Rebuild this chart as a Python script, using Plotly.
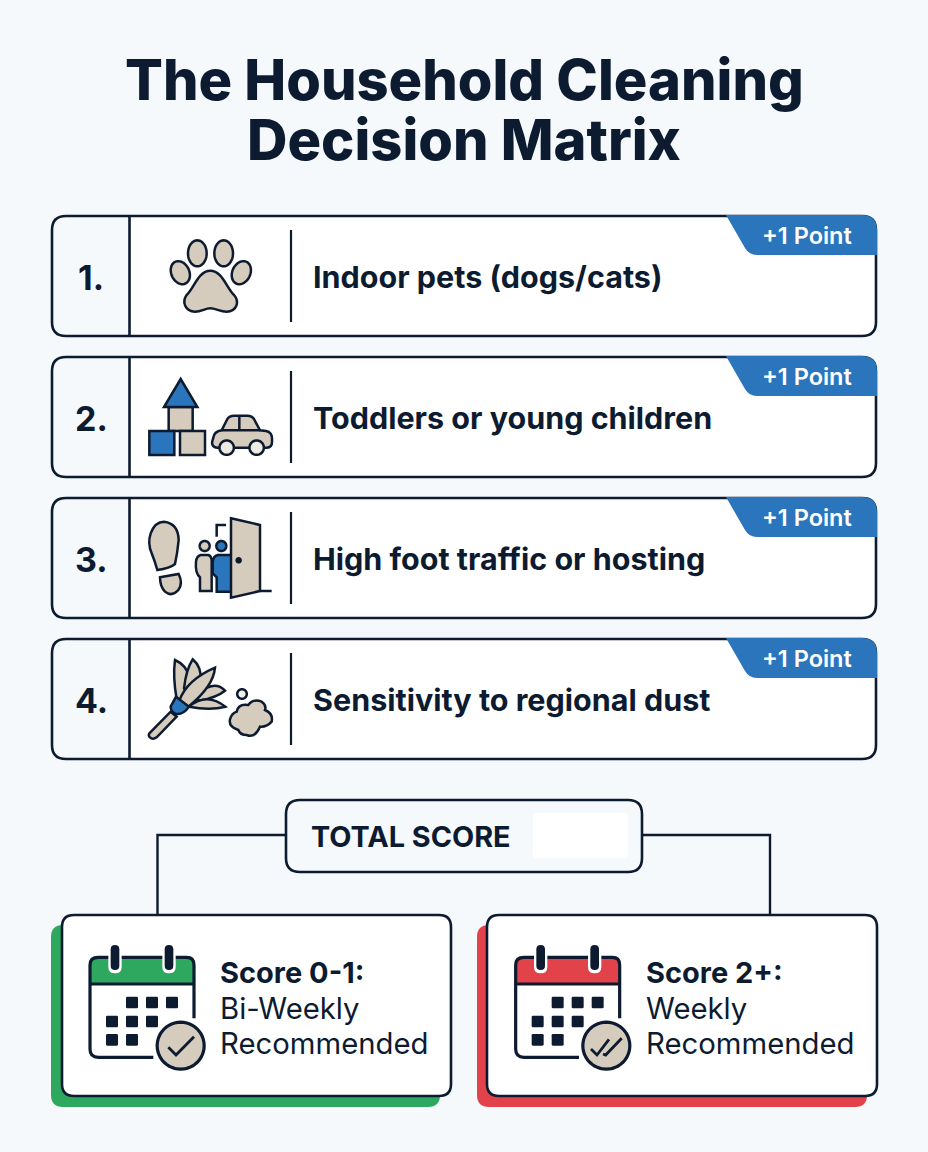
"""
Household cleaning decision matrix, drawn with plotly shapes and annotations.
"""
import math
import re

import plotly.graph_objects as go

TITLE_LINES = ["The Household Cleaning", "Decision Matrix"]
ROW_NUMBERS = ["1.", "2.", "3.", "4."]
ROW_LABELS = [
    "Indoor pets (dogs/cats)",
    "Toddlers or young children",
    "High foot traffic or hosting",
    "Sensitivity to regional dust",
]
BADGE_LABEL = "+1 Point"
TOTAL_LABEL = "TOTAL SCORE"
OUTCOME_HEADS = ["Score 0-1:", "Score 2+:"]
OUTCOME_LINES = [["Bi-Weekly", "Recommended"], ["Weekly", "Recommended"]]

W, H = 928, 1152
BG = "#f5f9fc"
INK = "#0d1b30"
TAN = "#d6ccbd"
BLUE = "#2a75bb"
GREEN = "#2fa85f"
RED = "#e2434a"
FONT = "Inter"

ROW_TOPS = [216, 357, 498, 639]

shapes = []
notes = []


def add(path, fill=None, line=INK, width=2.5):
    shapes.append(
        dict(
            type="path",
            path=path,
            xref="x",
            yref="y",
            fillcolor=fill if fill else "rgba(0,0,0,0)",
            line=dict(color=line if line else "rgba(0,0,0,0)", width=width if line else 0),
            layer="above",
        )
    )


def rrect(x0, y0, x1, y1, r):
    return (
        f"M {x0 + r} {y0} L {x1 - r} {y0} Q {x1} {y0} {x1} {y0 + r} L {x1} {y1 - r} Q {x1} {y1} {x1 - r} {y1} "
        f"L {x0 + r} {y1} Q {x0} {y1} {x0} {y1 - r} L {x0} {y0 + r} Q {x0} {y0} {x0 + r} {y0} Z"
    )


def zoomed(path, ox, oy):
    """Turns a path traced on a 3x crop into page coordinates."""
    tokens = re.findall(r"[A-Za-z]|-?[\d.]+", path)
    out, is_x = [], True
    for tok in tokens:
        if tok.isalpha():
            out.append(tok)
            is_x = True
        else:
            val = float(tok) / 3 + (ox if is_x else oy)
            out.append(f"{val:.2f}")
            is_x = not is_x
    return " ".join(out)


def ellipse(cx, cy, rx, ry, angle=0):
    a = math.radians(angle)
    pts = []
    for i in range(48):
        t = 2 * math.pi * i / 48
        x, y = rx * math.cos(t), ry * math.sin(t)
        pts.append((cx + x * math.cos(a) - y * math.sin(a), cy + x * math.sin(a) + y * math.cos(a)))
    return "M " + " L ".join(f"{x:.2f} {y:.2f}" for x, y in pts) + " Z"


def text(x, y, label, size, weight=700, color=INK, anchor="left"):
    notes.append(
        dict(
            x=x,
            y=y,
            xref="x",
            yref="y",
            text=label,
            showarrow=False,
            xanchor=anchor,
            yanchor="middle",
            font=dict(family=FONT, size=size, color=color, weight=weight),
        )
    )


def paw_icon(oy):
    ox = 40
    for cx, cy, rx, ry, ang in [
        (472, 145, 28, 39, 0),
        (551, 145, 28, 39, 0),
        (421, 203, 27, 36, -25),
        (604, 203, 27, 36, 25),
    ]:
        add(ellipse(cx / 3 + ox, cy / 3 + oy, rx / 3, ry / 3, ang), TAN)
    add(
        zoomed(
            "M 511 197 C 475 197 462 250 440 270 C 425 290 435 320 465 320 C 485 320 495 310 511 310 "
            "C 527 310 540 320 560 320 C 590 320 600 290 582 270 C 560 250 547 197 511 197 Z",
            ox,
            oy,
        ),
        TAN,
    )


def toy_icon(oy):
    ox = 40
    add(zoomed("M 386 606 L 458 606 L 458 678 L 386 678 Z", ox, oy), TAN)
    add(zoomed("M 422 522 L 472 606 L 372 606 Z", ox, oy), BLUE)
    add(zoomed("M 328 678 L 403 678 L 403 750 L 328 750 Z", ox, oy), BLUE)
    add(zoomed("M 420 678 L 495 678 L 495 750 L 420 750 Z", ox, oy), TAN)
    add(
        zoomed(
            "M 520 698 Q 522 680 545 676 L 562 642 Q 568 632 582 632 L 622 632 Q 636 632 642 642 L 660 676 "
            "L 678 678 Q 696 682 696 700 L 696 712 Q 696 728 680 728 L 532 728 Q 516 728 516 712 Z",
            ox,
            oy,
        ),
        TAN,
    )
    add(zoomed("M 545 676 L 660 676 M 598 632 L 598 676", ox, oy))
    add(ellipse(560 / 3 + ox, 728 / 3 + oy, 7.2, 7.2), "#efeae2")
    add(ellipse(650 / 3 + ox, 728 / 3 + oy, 7.2, 7.2), "#efeae2")


def traffic_icon(oy):
    ox = 40
    add(
        zoomed(
            "M 372 95 Q 415 100 416 150 Q 412 190 405 222 Q 390 235 352 240 Q 345 215 335 190 "
            "Q 322 160 332 130 Q 345 95 372 95 Z",
            ox,
            oy,
        ),
        TAN,
    )
    add(zoomed("M 360 262 L 416 252 Q 430 280 415 300 Q 395 322 375 305 Q 360 290 360 262 Z", ox, oy), TAN)
    add(ellipse(494 / 3 + ox, 168 / 3 + oy, 5, 5), TAN)
    add(
        zoomed(
            "M 482 195 L 505 195 Q 514 198 515 210 L 515 303 L 480 303 L 480 262 Q 465 250 468 215 Q 470 198 482 195 Z",
            ox,
            oy,
        ),
        TAN,
    )
    add(ellipse(544 / 3 + ox, 168 / 3 + oy, 5, 5), BLUE)
    add(zoomed("M 533 195 L 585 195 L 585 305 L 530 305 L 530 262 L 518 250 L 518 215 Q 520 198 533 195 Z", ox, oy), BLUE)
    add(zoomed("M 530 140 L 530 105 L 558 105", ox, oy))
    add(zoomed("M 573 85 L 660 105 L 660 303 L 573 323 Z", ox, oy), TAN)
    add(ellipse(596 / 3 + ox, 211 / 3 + oy, 2, 2), INK)
    add(zoomed("M 660 303 L 695 303", ox, oy))


def duster_icon(oy):
    ox = 40
    add(zoomed("M 328 730 L 392 665 L 410 680 L 350 742 Q 338 750 330 742 Q 324 736 328 730 Z", ox, oy), TAN)
    add(zoomed("M 410 628 Q 398 560 405 510 Q 440 525 450 565 Q 448 600 428 630 Z", ox, oy), TAN)
    add(zoomed("M 432 595 Q 438 540 458 508 Q 485 530 482 572 L 445 612 Z", ox, oy), TAN)
    add(zoomed("M 460 622 Q 520 565 555 602 Q 530 622 480 632 Z", ox, oy), TAN)
    add(zoomed("M 447 650 Q 500 605 556 650 Q 510 662 447 650 Z", ox, oy), TAN)
    add(zoomed("M 418 632 Q 440 570 525 533 Q 520 590 445 650 Z", ox, oy), TAN)
    add(zoomed("M 408 620 L 447 650 Q 430 675 408 672 Q 392 665 392 650 Z", ox, oy), BLUE)
    add(ellipse(606 / 3 + ox, 612 / 3 + oy, 4.8, 4.8), "#f5f1ea")
    add(
        zoomed(
            "M 590 665 Q 595 640 625 645 Q 640 625 665 635 Q 680 645 675 660 Q 700 670 695 695 Q 680 712 660 710 "
            "Q 645 745 620 735 Q 600 735 595 720 Q 565 710 570 688 Q 575 670 590 665 Z",
            ox,
            oy,
        ),
        TAN,
    )


def calendar_icon(ox, color, double):
    oy = 900
    add(zoomed("M 150 252 L 150 195 Q 150 172 175 172 L 440 172 Q 462 172 462 195 L 462 252 Z", ox, oy), color, None)
    add(
        zoomed(
            "M 340 472 L 175 472 Q 150 472 150 447 L 150 195 Q 150 172 175 172 L 440 172 Q 462 172 462 195 L 462 355",
            ox,
            oy,
        ),
        width=3.2,
    )
    add(zoomed("M 150 252 L 462 252", ox, oy), width=3.2)
    for ring in [225, 387]:
        add(zoomed(rrect(ring - 20, 128, ring + 20, 220, 20), ox, oy), "#ffffff", None)
        add(zoomed(rrect(ring - 13, 135, ring + 13, 210, 13), ox, oy), INK, None)
    for sx, sy in [(258, 290), (318, 290), (378, 290), (198, 347), (258, 347), (318, 347), (198, 402), (258, 402)]:
        add(zoomed(rrect(sx, sy, sx + 36, sy + 35, 4), ox, oy), INK, None)
    add(ellipse(422 / 3 + ox, 437 / 3 + oy, 27, 27), "#ffffff", None)
    add(ellipse(422 / 3 + ox, 437 / 3 + oy, 23.5, 23.5), TAN, width=3.2)
    if double:
        add(zoomed("M 376 447 L 394 465 L 430 418", ox, oy), width=2.8)
        add(zoomed("M 412 462 L 420 465 L 468 415", ox, oy), width=2.8)
    else:
        add(zoomed("M 385 442 L 408 465 L 462 410", ox, oy), width=2.8)


for i, top in enumerate(ROW_TOPS):
    bottom = top + 120
    add(rrect(52, top, 876, bottom, 14), "#ffffff", None)
    add(
        f"M 129.5 {top} L 66 {top} Q 52 {top} 52 {top + 14} L 52 {bottom - 14} Q 52 {bottom} 66 {bottom} L 129.5 {bottom} Z",
        BG,
        None,
    )
    add(rrect(52, top, 876, bottom, 14), width=2.6)
    add(f"M 129.5 {top} L 129.5 {bottom}", width=2.6)
    add(f"M 291 {top + 14} L 291 {bottom - 14}", width=2.2)
    add(
        f"M 726 {top - 1} L 862 {top - 1} Q 877 {top - 1} 877 {top + 14} L 877 {top + 39} L 757 {top + 39} "
        f"Q 749 {top + 39} 745 {top + 32} Z",
        BLUE,
        None,
    )
    text(807, top + 19.5, BADGE_LABEL, 23.5, 600, "#ffffff", "center")
    text(91, top + 61, ROW_NUMBERS[i], 34, 700, INK, "center")
    text(311, top + 60, ROW_LABELS[i], 30.5, 700)

paw_icon(205)
toy_icon(205)
traffic_icon(490)
duster_icon(490)

# connectors and total box
add("M 286 835 L 157.5 835 L 157.5 915", width=2.4)
add("M 642 835 L 770 835 L 770 915", width=2.4)
add(rrect(286, 800, 642, 872, 14), BG, width=2.6)
add(rrect(533, 813, 628, 858, 4), "#ffffff", None)
text(309, 836, TOTAL_LABEL, 28.8, 700)

# outcome cards
cards = [(62, 451, 51, 440, GREEN, 40, False, 218), (487, 877, 477, 867, RED, 470 - 13 / 3, True, 643.5)]
for k, (x0, x1, sx0, sx1, color, cal_x, double, tx) in enumerate(cards):
    add(rrect(sx0, 925, sx1, 1107, 12), color, None)
    add(rrect(x0, 915, x1, 1096, 12), "#ffffff", width=2.6)
    calendar_icon(cal_x, color, double)
    text(tx, 972, OUTCOME_HEADS[k], 29, 700)
    text(tx, 1008, OUTCOME_LINES[k][0], 29.3, 400)
    text(tx, 1043, OUTCOME_LINES[k][1], 29.3, 400)

text(464, 80, TITLE_LINES[0], 56, 800, INK, "center")
text(464, 140, TITLE_LINES[1], 56, 800, INK, "center")

fig = go.Figure()
fig.update_layout(
    width=W,
    height=H,
    margin=dict(l=0, r=0, t=0, b=0),
    paper_bgcolor=BG,
    plot_bgcolor=BG,
    showlegend=False,
    shapes=shapes,
    annotations=notes,
    xaxis=dict(range=[0, W], visible=False, fixedrange=True),
    yaxis=dict(range=[H, 0], visible=False, fixedrange=True),
)
fig.write_html("out.html", post_script="document.body.style.margin='0';", config={"displayModeBar": False})
